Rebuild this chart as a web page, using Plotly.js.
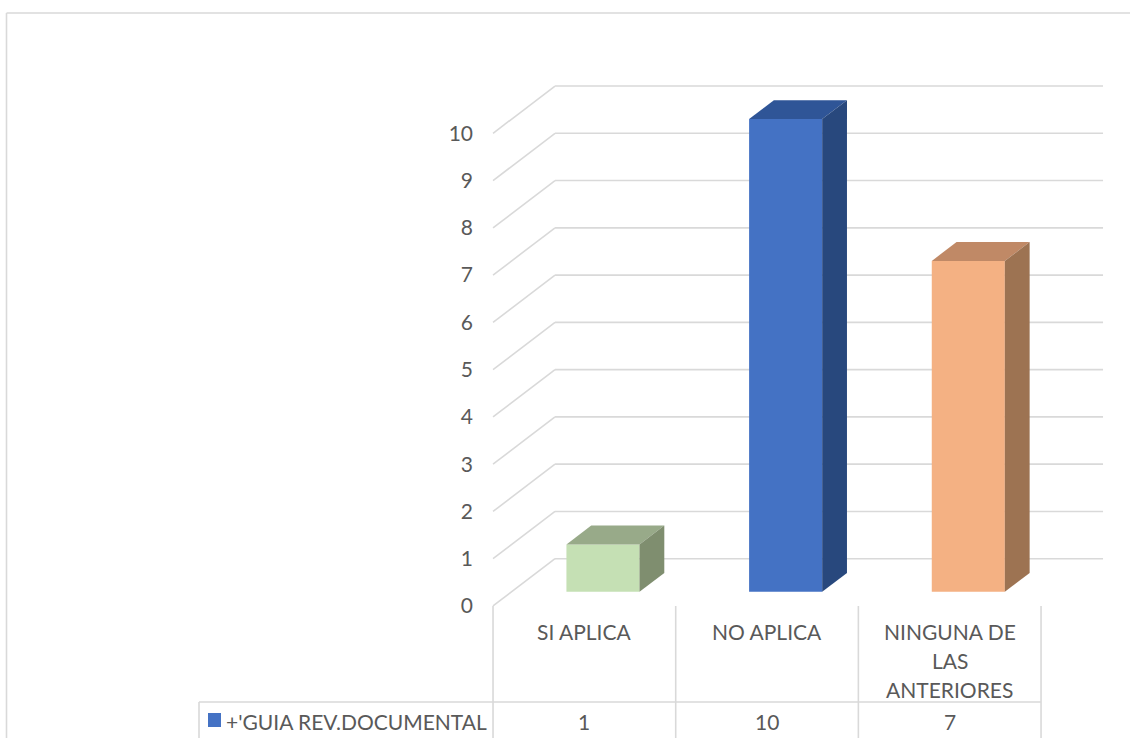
<!DOCTYPE html>
<html>
<head>
<meta charset="utf-8">
<script src="https://cdn.plot.ly/plotly-3.0.1.min.js"></script>
<style>html,body{margin:0;padding:0;background:#ffffff;overflow:hidden}</style>
</head>
<body>
<div id="chart" style="width:1130px;height:738px"></div>
<script>
// ---- data ----
const categories = ['SI APLICA', 'NO APLICA', 'NINGUNA DE<br>LAS<br>ANTERIORES'];
const values = [1, 10, 7];
const seriesName = "+'GUIA REV.DOCUMENTAL";
const tickValues = [0, 1, 2, 3, 4, 5, 6, 7, 8, 9, 10];

// ---- styles ----
const frontColors = ['#C5E0B4', '#4472C4', '#F4B183'];
const topColors = ['#98AA89', '#2F5597', '#C08966'];
const sideColors = ['#7F8E6F', '#28487D', '#9D7352'];
const gridColor = '#D9D9D9';
const textColor = '#595959';
const FONT = 'Lato, "Liberation Sans", sans-serif';
const FS = 21;

const W = 1130, H = 738;
// axis ranges chosen so that the front plane spans the category columns
const xRange = [-3.199, 2.987];
const yRange = [-2.793, 12.82];
// 3D depth vector in axis units
const DX = 0.3394, DY = 1.0;
const barW = 0.4, dFront = 0.3, dBack = 0.7;

const n = categories.length;
const xLeft = -0.5, xRight = n - 0.5;

const traces = [];
const shapes = [];
const lineStyle = {color: gridColor, width: 1.6};

// gridlines (front diagonal + back wall), drawn beneath the bars
tickValues.forEach(v => {
  shapes.push({type: 'line', layer: 'below', xref: 'x', yref: 'y',
    x0: xLeft, y0: v, x1: xLeft + DX, y1: v + DY, line: lineStyle});
  shapes.push({type: 'line', layer: 'below', xref: 'x', yref: 'y',
    x0: xLeft + DX, y0: v + DY, x1: xRight + DX, y1: v + DY, line: lineStyle});
});

// front faces
traces.push({
  type: 'bar',
  x: values.map((v, i) => i + dFront * DX),
  y: values,
  base: values.map(() => dFront * DY),
  width: barW,
  marker: {color: frontColors, line: {width: 0}},
  name: seriesName, showlegend: false, hoverinfo: 'skip'
});

// top and side faces
values.forEach((v, i) => {
  const x0 = i + dFront * DX - barW / 2;
  const x1 = i + dFront * DX + barW / 2;
  const ddx = (dBack - dFront) * DX;
  const ddy = (dBack - dFront) * DY;
  const yf = v + dFront * DY;
  traces.push({
    type: 'scatter', mode: 'lines', fill: 'toself',
    x: [x0, x1, x1 + ddx, x0 + ddx, x0],
    y: [yf, yf, yf + ddy, yf + ddy, yf],
    fillcolor: topColors[i], line: {width: 0, color: topColors[i]},
    hoverinfo: 'skip', showlegend: false
  });
  traces.push({
    type: 'scatter', mode: 'lines', fill: 'toself',
    x: [x1, x1, x1 + ddx, x1 + ddx, x1],
    y: [dFront * DY, yf, yf + ddy, dBack * DY, dFront * DY],
    fillcolor: sideColors[i], line: {width: 0, color: sideColors[i]},
    hoverinfo: 'skip', showlegend: false
  });
});

// ---- data table ----
const py = p => 1 - p / H;   // pixel row -> paper y
const pxp = p => p / W;      // pixel col -> paper x

// outer chart border (top + left)
shapes.push({type: 'line', xref: 'paper', yref: 'paper', x0: pxp(6.5), x1: 1, y0: py(13), y1: py(13), line: lineStyle});
shapes.push({type: 'line', xref: 'paper', yref: 'paper', x0: pxp(6.5), x1: pxp(6.5), y0: py(13), y1: 0, line: lineStyle});

// column separators
for (let k = 0; k <= n; k++) {
  shapes.push({type: 'line', xref: 'x', yref: 'paper', x0: k - 0.5, x1: k - 0.5,
    y0: py(606), y1: 0, line: lineStyle});
}
// value row top line (incl. legend key cell)
shapes.push({type: 'line', xref: 'paper', yref: 'paper', x0: pxp(199), x1: pxp(493), y0: py(702), y1: py(702), line: lineStyle});
shapes.push({type: 'line', xref: 'x', yref: 'paper', x0: xLeft, x1: xRight, y0: py(702), y1: py(702), line: lineStyle});
shapes.push({type: 'line', xref: 'paper', yref: 'paper', x0: pxp(199), x1: pxp(199), y0: py(702), y1: 0, line: lineStyle});
// legend key square
shapes.push({type: 'rect', xref: 'paper', yref: 'paper', x0: pxp(208), x1: pxp(221), y0: py(727), y1: py(713),
  fillcolor: frontColors[1], line: {width: 0}});

const annotations = [];
categories.forEach((c, i) => {
  c.split('<br>').forEach((ln, j) => {
    annotations.push({xref: 'x', yref: 'paper', x: i, y: py(631 + 29 * j), text: ln,
      showarrow: false, xanchor: 'center', yanchor: 'middle',
      font: {family: FONT, size: FS, color: textColor}});
  });
});
values.forEach((v, i) => {
  annotations.push({xref: 'x', yref: 'paper', x: i, y: py(721), text: String(v),
    showarrow: false, xanchor: 'center', yanchor: 'middle',
    font: {family: FONT, size: FS, color: textColor}});
});
annotations.push({xref: 'paper', yref: 'paper', x: pxp(224), y: py(721), text: seriesName,
  showarrow: false, xanchor: 'left', yanchor: 'middle',
  font: {family: FONT, size: FS, color: textColor}});

const layout = {
  width: W, height: H,
  margin: {l: 0, r: 0, t: 0, b: 0, autoexpand: false},
  paper_bgcolor: '#ffffff', plot_bgcolor: 'rgba(0,0,0,0)',
  showlegend: false,
  font: {family: FONT, size: FS, color: textColor},
  xaxis: {range: xRange, visible: false, fixedrange: true},
  yaxis: {
    range: yRange, anchor: 'free', position: 493 / W,
    tickvals: tickValues, ticktext: tickValues.map(String),
    showgrid: false, zeroline: false, showline: false, ticks: '',
    ticklabelstandoff: 20,
    tickfont: {family: FONT, size: FS, color: textColor}, fixedrange: true
  },
  shapes: shapes,
  annotations: annotations
};

Plotly.newPlot('chart', traces, layout, {staticPlot: true, responsive: false});
</script>
</body>
</html>
